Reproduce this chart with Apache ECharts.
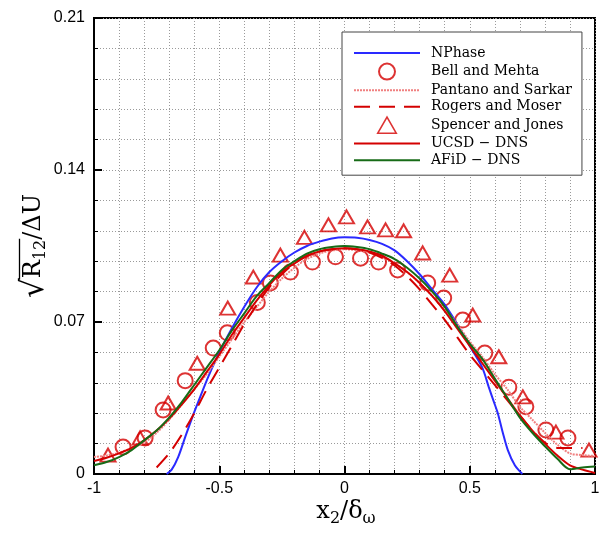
<!DOCTYPE html>
<html><head><meta charset="utf-8">
<script src="https://cdn.jsdelivr.net/npm/echarts@6/dist/echarts.min.js"></script>
<style>html,body{margin:0;padding:0;background:#fff}#c{width:608px;height:533px}</style>
</head><body><div id="c"></div>
<script>
// ---------- data ----------
const xTicks = [-1, -0.5, 0, 0.5, 1];
const yTicks = [0, 0.07, 0.14, 0.21];

const nphaseX = [-0.71,-0.69,-0.664,-0.636,-0.608,-0.576,-0.544,-0.5,-0.45,-0.4,-0.35,-0.3,-0.25,-0.2,-0.15,-0.1,-0.05,0,0.05,0.1,0.15,0.2,0.25,0.3,0.35,0.4,0.45,0.5,0.55,0.576,0.6,0.612,0.632,0.652,0.68,0.71];
const nphaseY = [0,0.002,0.0078,0.017,0.026,0.0355,0.0447,0.056,0.067,0.077,0.086,0.093,0.098,0.102,0.105,0.107,0.1085,0.109,0.1088,0.1078,0.106,0.103,0.098,0.092,0.085,0.078,0.069,0.059,0.049,0.040,0.032,0.028,0.019,0.011,0.004,0];

const bellX = [-0.884,-0.796,-0.724,-0.636,-0.524,-0.468,-0.348,-0.296,-0.216,-0.128,-0.036,0.064,0.136,0.212,0.332,0.396,0.472,0.56,0.656,0.724,0.804,0.892];
const bellY = [0.0124,0.0166,0.0295,0.043,0.058,0.065,0.079,0.088,0.093,0.0976,0.100,0.0994,0.0976,0.094,0.088,0.081,0.0709,0.0557,0.040,0.031,0.0203,0.0166];

const pantanoX = [-1,-0.95,-0.9,-0.85,-0.8,-0.75,-0.7,-0.65,-0.6,-0.55,-0.5,-0.45,-0.4,-0.35,-0.3,-0.25,-0.2,-0.15,-0.1,-0.05,0,0.05,0.1,0.15,0.2,0.25,0.3,0.35,0.4,0.45,0.5,0.55,0.6,0.65,0.7,0.75,0.8,0.85,0.9,0.95,1];
const pantanoY = [0.0078,0.0085,0.0098,0.012,0.0145,0.019,0.025,0.032,0.039,0.046,0.054,0.062,0.070,0.077,0.084,0.090,0.095,0.099,0.1015,0.103,0.1035,0.103,0.102,0.100,0.097,0.093,0.088,0.082,0.076,0.069,0.061,0.054,0.046,0.039,0.031,0.025,0.019,0.0135,0.0095,0.0087,0.0083];

const rogersX = [-0.75,-0.7,-0.65,-0.6,-0.55,-0.5,-0.45,-0.4,-0.35,-0.3,-0.25,-0.2,-0.15,-0.1,-0.05,0,0.05,0.1,0.15,0.2,0.25,0.3,0.35,0.4,0.45,0.5,0.55,0.6,0.65,0.7,0.75,0.8,0.85,0.9,0.95];
const rogersY = [0.003,0.0095,0.018,0.028,0.039,0.049,0.059,0.069,0.078,0.086,0.092,0.097,0.1005,0.1025,0.1035,0.104,0.1035,0.102,0.0995,0.096,0.091,0.085,0.078,0.071,0.063,0.055,0.048,0.041,0.034,0.027,0.020,0.0145,0.012,0.012,0.012];

const spencerX = [-0.944,-0.816,-0.704,-0.588,-0.466,-0.364,-0.256,-0.16,-0.064,0.008,0.092,0.164,0.236,0.312,0.42,0.512,0.616,0.712,0.844,0.976];
const spencerY = [0.0087,0.0166,0.0327,0.051,0.0764,0.0907,0.1008,0.109,0.1147,0.1184,0.1138,0.1124,0.112,0.1018,0.0916,0.0732,0.054,0.0355,0.0193,0.011];

const ucsdX = [-1,-0.95,-0.9,-0.85,-0.8,-0.75,-0.7,-0.65,-0.6,-0.55,-0.5,-0.45,-0.4,-0.35,-0.3,-0.25,-0.2,-0.15,-0.1,-0.05,0,0.05,0.1,0.15,0.2,0.25,0.3,0.35,0.4,0.45,0.5,0.55,0.6,0.65,0.7,0.75,0.8,0.85,0.9,0.95,1];
const ucsdY = [0.006,0.0075,0.0095,0.012,0.0155,0.020,0.0255,0.032,0.039,0.047,0.055,0.064,0.072,0.080,0.087,0.093,0.097,0.1005,0.1025,0.1035,0.104,0.1035,0.1025,0.1005,0.097,0.093,0.088,0.082,0.075,0.067,0.059,0.051,0.043,0.035,0.027,0.020,0.014,0.0085,0.004,0.002,0.0005];

const afidX = [-1,-0.95,-0.9,-0.85,-0.8,-0.75,-0.7,-0.65,-0.6,-0.55,-0.5,-0.45,-0.4,-0.35,-0.3,-0.25,-0.2,-0.15,-0.1,-0.05,0,0.05,0.1,0.15,0.2,0.25,0.3,0.35,0.4,0.45,0.5,0.55,0.6,0.65,0.7,0.75,0.8,0.85,0.9,0.95,1];
const afidY = [0.004,0.0055,0.0078,0.011,0.0155,0.020,0.026,0.033,0.041,0.049,0.057,0.066,0.074,0.082,0.088,0.094,0.098,0.1015,0.1035,0.1045,0.105,0.1045,0.1035,0.1015,0.099,0.095,0.090,0.084,0.077,0.068,0.060,0.053,0.044,0.035,0.026,0.019,0.0128,0.007,0.0022,0.003,0.0035];

const seriesNames = ['NPhase','Bell and Mehta','Pantano and Sarkar','Rogers and Moser','Spencer and Jones','UCSD \u2212 DNS','AFiD \u2212 DNS'];

// ---------- helpers ----------
const zip = (xs, ys) => xs.map((x, i) => [x, ys[i]]);
const RED = '#d40000';
const SERIF = '"DejaVu Serif", serif';
const cv = document.createElement('canvas').getContext('2d');
function tw(t, size) { cv.font = size + 'px ' + SERIF; return cv.measureText(t).width; }

function yTitle() {
  const parts = [['\u221A', 31, 1], ['R', 24, 0], ['12', 16, 7], ['/\u0394U', 24, 0]];
  const W = parts.reduce((s, p) => s + tw(p[0], p[1]), 0);
  let x = -W / 2; const kids = []; let rStart = 0, rEnd = 0;
  parts.forEach((p, i) => {
    kids.push({type: 'text', style: {text: p[0], x: x, y: p[2], font: p[1] + 'px ' + SERIF, fill: '#000', align: 'left', verticalAlign: 'middle'}});
    if (i === 1) rStart = x;
    x += tw(p[0], p[1]);
    if (i === 2) rEnd = x;
  });
  kids.push({type: 'line', shape: {x1: rStart - 1.5, y1: -14.5, x2: rEnd + 1, y2: -14.5}, style: {stroke: '#000', lineWidth: 1.3}});
  return {type: 'group', x: 34, y: 246, rotation: Math.PI / 2, children: kids};
}
function xTitle() {
  const parts = [['x', 24, 0], ['2', 16, 7], ['/\u03B4', 24, 0], ['\u03C9', 16, 7]];
  const W = parts.reduce((s, p) => s + tw(p[0], p[1]), 0);
  let x = -W / 2; const kids = [];
  parts.forEach(p => {
    kids.push({type: 'text', style: {text: p[0], x: x, y: p[2], font: p[1] + 'px ' + SERIF, fill: '#000', align: 'left', verticalAlign: 'middle'}});
    x += tw(p[0], p[1]);
  });
  return {type: 'group', x: 346, y: 512, children: kids};
}

const hideSym = {color: 'rgba(0,0,0,0)', borderColor: 'rgba(0,0,0,0)', borderWidth: 0, opacity: 0};
const legendData = seriesNames.map((n, i) => {
  if (i === 1) return {name: n};
  if (i === 4) return {name: n, icon: 'path://M0,13L7.5,0L15,13Z', itemStyle: {color: 'rgba(0,0,0,0)', borderColor: RED, borderWidth: 1.6}};
  return {name: n, itemStyle: hideSym};
});

const dotted = {color: '#9a9a9a', type: [1, 2], width: 1};
const chart = echarts.init(document.getElementById('c'), null, {renderer: 'canvas'});
chart.setOption({
  animation: false,
  backgroundColor: '#fff',
  grid: {left: 94, right: 13, top: 18, bottom: 59, show: true, borderColor: '#000', borderWidth: 2, backgroundColor: 'transparent'},
  xAxis: {
    type: 'value', min: xTicks[0], max: xTicks[xTicks.length - 1], interval: 0.5,
    axisLine: {show: true, onZero: false, lineStyle: {color: '#000', width: 2}},
    axisTick: {show: true, inside: true, length: 8, lineStyle: {color: '#000', width: 2}},
    minorTick: {show: true, splitNumber: 5, length: 4, lineStyle: {color: '#000', width: 1}},
    splitLine: {show: true, lineStyle: dotted},
    minorSplitLine: {show: true, lineStyle: dotted},
    axisLabel: {margin: 7, color: '#000', fontSize: 16, fontFamily: '"Liberation Sans", Arial, sans-serif',
      showMinLabel: true, showMaxLabel: true,
      formatter: v => String(+v.toFixed(2))}
  },
  yAxis: {
    type: 'value', min: yTicks[0], max: yTicks[yTicks.length - 1], interval: 0.07,
    axisLine: {show: true, onZero: false, lineStyle: {color: '#000', width: 2}},
    axisTick: {show: true, inside: true, length: 8, lineStyle: {color: '#000', width: 2}},
    minorTick: {show: true, splitNumber: 5, length: 4, lineStyle: {color: '#000', width: 1}},
    splitLine: {show: true, lineStyle: dotted},
    minorSplitLine: {show: true, lineStyle: dotted},
    axisLabel: {margin: 9, color: '#000', fontSize: 16, fontFamily: '"Liberation Sans", Arial, sans-serif',
      showMinLabel: true, showMaxLabel: true,
      formatter: v => String(+v.toFixed(2))}
  },
  legend: {
    orient: 'vertical', left: 342, top: 32,
    backgroundColor: '#fff', borderColor: '#444', borderWidth: 1,
    padding: [14, 10, 8, 11],
    itemWidth: 66, itemHeight: 16, itemGap: 2.6,
    symbolKeepAspect: true,
    textStyle: {fontFamily: SERIF, fontSize: 14, color: '#000', padding: [0, 0, 0, 6]},
    data: legendData
  },
  graphic: [yTitle(), xTitle()],
  series: [
    {name: seriesNames[0], type: 'line', data: zip(nphaseX, nphaseY), showSymbol: false, symbol: 'none', smooth: 0.3,
      lineStyle: {color: '#2a2aff', width: 2}, itemStyle: {color: '#2a2aff'}},
    {name: seriesNames[1], type: 'scatter', data: zip(bellX, bellY), symbol: 'circle', symbolSize: 15, symbolKeepAspect: true,
      itemStyle: {color: 'rgba(0,0,0,0)', borderColor: RED, borderWidth: 2}},
    {name: seriesNames[2], type: 'line', data: zip(pantanoX, pantanoY), showSymbol: false, symbol: 'none', smooth: 0.3,
      lineStyle: {color: '#f08080', width: 2, type: [2, 1]}, itemStyle: {color: '#f08080'}},
    {name: seriesNames[3], type: 'line', data: zip(rogersX, rogersY), showSymbol: false, symbol: 'none', smooth: 0.3,
      lineStyle: {color: RED, width: 2, type: [16, 9]}, itemStyle: {color: RED}},
    {name: seriesNames[4], type: 'scatter', data: zip(spencerX, spencerY), symbol: 'triangle', symbolSize: [15, 13], symbolKeepAspect: true,
      itemStyle: {color: 'rgba(0,0,0,0)', borderColor: RED, borderWidth: 2}},
    {name: seriesNames[5], type: 'line', data: zip(ucsdX, ucsdY), showSymbol: false, symbol: 'none', smooth: 0.3,
      lineStyle: {color: RED, width: 2}, itemStyle: {color: RED}},
    {name: seriesNames[6], type: 'line', data: zip(afidX, afidY), showSymbol: false, symbol: 'none', smooth: 0.3,
      lineStyle: {color: '#176b17', width: 2}, itemStyle: {color: '#176b17'}}
  ]
});
</script>
</body></html>
